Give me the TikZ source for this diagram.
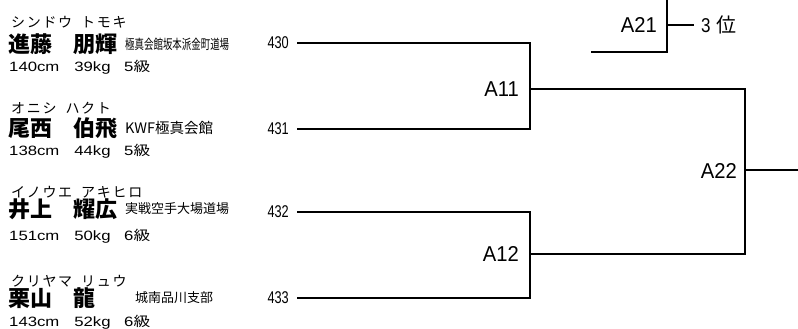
\documentclass[tikz,border=0pt]{standalone}
\usepackage{fontspec}
\setmainfont{Liberation Sans}
\newfontfamily\jp{Noto Sans CJK JP}
\newfontfamily\jpls[LetterSpace=12]{Noto Sans CJK JP}
\newcommand{\kgap}{\hspace{9pt}}
\begin{document}
\begin{tikzpicture}[x=1pt,y=-1pt,
  bline/.style={line width=1.8pt, line cap=butt, line join=miter},
  thinline/.style={line width=1.2pt},
  furi/.style={anchor=west, inner sep=0pt, font=\jpls\fontsize{14}{14}\selectfont},
  pname/.style={anchor=west, inner sep=0pt, font=\jp\bfseries\fontsize{22}{22}\selectfont},
  dojo/.style={anchor=west, inner sep=0pt, font=\jp\fontsize{13}{13}\selectfont},
  stats/.style={anchor=base west, inner sep=0pt, font=\fontsize{13.5}{13.5}\selectfont},
  num/.style={anchor=east, inner sep=0pt, font=\fontsize{17}{17}\selectfont},
  mlabel/.style={anchor=east, inner sep=0pt, font=\fontsize{21.5}{21.5}\selectfont}]
\useasboundingbox (0,0) rectangle (798,329);
\fill[white] (0,0) rectangle (798,329);

% competitors
\node[furi] (f1) at (11,22.5) {シンドウ\kgap トモキ};
\node[pname] (n1) at (8,44) {進藤\hspace{21pt}朋輝};
\node[anchor=west, inner sep=0pt, font=\jp\fontsize{13.5}{13.5}\selectfont] (d1) at (125,44) {\scalebox{0.7}[1]{極真会館坂本派金町道場}};
\node[stats] (s1) at (9,72) {\scalebox{1.24}[1]{140cm\hspace{12pt}39kg\hspace{11pt}5{\jp 級}}};

\node[furi] (f2) at (11,108) {オニシ\kgap ハクト};
\node[pname] (n2) at (8,128) {尾西\hspace{21pt}伯飛};
\node[anchor=west, inner sep=0pt, font=\jp\fontsize{14.5}{14.5}\selectfont] (d2) at (125,128) {KWF極真会館};
\node[stats] (s2) at (9,155) {\scalebox{1.24}[1]{138cm\hspace{12pt}44kg\hspace{11pt}5{\jp 級}}};

\node[furi] (f3) at (11,192.5) {イノウエ\kgap アキヒロ};
\node[pname] (n3) at (8,209) {井上\hspace{21pt}耀広};
\node[dojo] (d3) at (125,209) {実戦空手大場道場};
\node[stats] (s3) at (9,240) {\scalebox{1.24}[1]{151cm\hspace{12pt}50kg\hspace{11pt}6{\jp 級}}};

\node[furi] (f4) at (11,281) {クリヤマ\kgap リュウ};
\node[pname] (n4) at (8,298) {栗山\hspace{21pt}龍};
\node[dojo] (d4) at (135,298) {城南品川支部};
\node[stats] (s4) at (9,326) {\scalebox{1.24}[1]{143cm\hspace{12pt}52kg\hspace{11pt}6{\jp 級}}};

% entry numbers
\node[num] (e430) at (289,43) {\scalebox{0.75}[1]{430}};
\node[num] (e431) at (289,129) {\scalebox{0.75}[1]{431}};
\node[num] (e432) at (289,212) {\scalebox{0.75}[1]{432}};
\node[num] (e433) at (289,298) {\scalebox{0.75}[1]{433}};

% junction coordinates
\coordinate (l430) at (297,43);
\coordinate (l431) at (297,129);
\coordinate (l432) at (297,212);
\coordinate (l433) at (297,298);
\coordinate (a11t) at (530,43);
\coordinate (a11b) at (530,129);
\coordinate (a11o) at (530,89);
\coordinate (a12t) at (530,212);
\coordinate (a12b) at (530,298);
\coordinate (a12o) at (530,254);
\coordinate (a22t) at (745,89);
\coordinate (a22b) at (745,254);
\coordinate (a22o) at (745,170);
\coordinate (a22e) at (798,170);
\coordinate (a21l) at (591,52);
\coordinate (a21c) at (667,52);
\coordinate (a21t) at (667,0);
\coordinate (a21o) at (667,25);
\coordinate (a21s) at (694,25);

% match labels
\node[mlabel] (A11) at (519,89) {\scalebox{0.94}[1]{A11}};
\node[mlabel] (A12) at (519,254) {\scalebox{0.94}[1]{A12}};
\node[mlabel] (A22) at (737,171) {\scalebox{0.94}[1]{A22}};
\node[mlabel] (A21) at (657,25) {\scalebox{0.94}[1]{A21}};
\node[anchor=west, inner sep=0pt, font=\fontsize{20}{20}\selectfont] (p3) at (701,25) {\scalebox{0.85}[1]{3}\hspace{6pt}{\jp 位}};

% bracket lines
\draw[bline] (l430) -- (a11t) -- (a11b) -- (l431);
\draw[bline] (a11o) -- (a22t) -- (a22b) -- (a12o);
\draw[bline] (l432) -- (a12t) -- (a12b) -- (l433);
\draw[bline] (a22o) -- (a22e);
\draw[bline] (a21l) -- (a21c) -- (a21t);
\draw[thinline] (a21o) -- (a21s);
\end{tikzpicture}
\end{document}
